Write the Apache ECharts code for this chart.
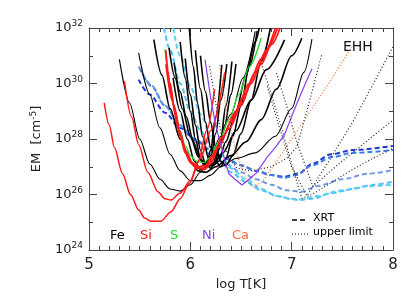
<!DOCTYPE html>
<html>
<head>
<meta charset="utf-8">
<title>EM loci</title>
<script src="https://cdn.jsdelivr.net/npm/echarts@6/dist/echarts.min.js"></script>
<style>
html, body { margin: 0; padding: 0; background: #fff; }
#chart { width: 420px; height: 307px; }
</style>
</head>
<body>
<div id="chart"></div>
<script>
// log T, log EM pairs
var xTicks = [5, 6, 7, 8];
var yTicks = [24, 26, 28, 30, 32];

var feCurves = [
  [[5.30,30.87],[5.40,29.3],[5.50,28.0],[5.60,27.1],[5.70,26.55],[5.80,26.2],[5.90,26.12],[6.00,26.35],[6.10,26.8],[6.20,27.4],[6.30,28.1],[6.40,28.9],[6.52,30.2],[6.64,31.88]],
  [[5.49,31.1],[5.60,29.6],[5.70,28.4],[5.80,27.45],[5.90,26.85],[6.00,26.5],[6.10,26.5],[6.20,26.7],[6.30,27.0],[6.45,27.3],[6.64,27.5],[6.84,28.1],[7.00,29.1],[7.12,30.4],[7.20,31.6]],
  [[5.64,31.58],[5.72,30.3],[5.80,29.1],[5.90,28.0],[6.00,27.2],[6.08,26.85],[6.15,26.8],[6.25,27.0],[6.40,27.4],[6.55,27.9],[6.70,28.7],[6.85,29.8],[7.00,31.0],[7.10,31.63]],
  [[5.79,31.28],[5.85,30.2],[5.92,29.1],[6.00,28.1],[6.08,27.35],[6.15,27.0],[6.22,27.05],[6.32,27.5],[6.45,28.3],[6.60,29.4],[6.75,30.5],[6.93,31.57]],
  [[5.84,30.74],[5.90,29.7],[5.96,28.8],[6.03,27.9],[6.10,27.25],[6.16,27.0],[6.22,27.1],[6.28,27.6],[6.34,28.5],[6.40,29.6],[6.45,30.7]],
  [[5.99,32.0],[6.03,30.6],[6.07,29.3],[6.12,28.1],[6.18,27.3],[6.23,27.05],[6.28,27.2],[6.35,27.9],[6.45,29.0],[6.55,30.3],[6.64,31.5],[6.68,32.0]],
  [[5.95,30.9],[6.00,29.6],[6.05,28.5],[6.10,27.6],[6.15,27.1],[6.20,26.95],[6.25,27.2],[6.30,28.0],[6.35,29.2],[6.41,30.79]],
  [[6.05,31.2],[6.10,29.8],[6.15,28.6],[6.20,27.7],[6.25,27.2],[6.30,27.0],[6.35,27.3],[6.42,28.1],[6.50,29.2],[6.58,30.6],[6.66,31.9]],
  [[6.10,31.0],[6.15,29.7],[6.20,28.6],[6.25,27.7],[6.30,27.2],[6.35,27.05],[6.42,27.4],[6.50,28.2],[6.60,29.4],[6.70,30.8],[6.79,32.0]],
  [[5.90,31.5],[5.95,30.2],[6.00,29.0],[6.05,28.0],[6.10,27.3],[6.15,27.05],[6.20,27.3],[6.25,28.2],[6.30,29.4],[6.36,30.7]],
  [[5.83,30.2],[5.90,29.0],[5.97,28.0],[6.04,27.2],[6.10,26.9],[6.16,27.0],[6.20,27.6],[6.25,28.8],[6.31,30.67]]
];

var siCurves = [
  [[5.15,29.3],[5.20,28.5],[5.25,27.7],[5.33,26.76],[5.41,26.0],[5.49,25.44],[5.55,25.15],[5.61,25.04],[5.71,25.04],[5.81,25.38],[5.90,25.85],[5.99,26.4],[6.10,27.3],[6.20,28.3],[6.34,30.4]],
  [[5.35,30.08],[5.42,28.8],[5.49,27.8],[5.58,26.8],[5.68,26.1],[5.75,25.85],[5.81,25.8],[5.90,26.05],[6.00,26.5],[6.08,27.2],[6.16,28.3],[6.24,29.8]],
  [[5.757,31.2],[5.80,30.0],[5.85,28.9],[5.90,28.1],[5.95,27.5],[6.00,27.15],[6.06,26.95],[6.12,26.95],[6.18,27.1],[6.25,27.6],[6.39,28.4],[6.50,29.2],[6.60,30.0],[6.70,30.7],[6.80,31.4],[6.885,32.0]],
  [[5.76,30.7],[5.82,29.4],[5.88,28.4],[5.95,27.6],[6.02,27.15],[6.08,26.95],[6.14,26.9],[6.20,27.1],[6.28,27.7],[6.40,28.6],[6.52,29.5],[6.64,30.4],[6.75,31.2],[6.86,32.0]],
  [[5.78,30.4],[5.84,29.2],[5.90,28.2],[5.96,27.5],[6.02,27.1],[6.08,27.0],[6.15,27.05],[6.22,27.4],[6.32,28.1],[6.45,29.0],[6.58,30.0],[6.70,30.9],[6.84,32.0]]
];

var sCurve = [[5.75,31.23],[5.80,30.0],[5.85,29.0],[5.90,28.3],[5.95,27.75],[6.00,27.4],[6.06,27.2],[6.13,27.15],[6.20,27.35],[6.28,27.9],[6.38,28.7],[6.48,29.6],[6.58,30.6],[6.70,31.65]];

var niCurve = [[6.145,30.86],[6.20,29.5],[6.25,28.5],[6.30,27.8],[6.35,27.1],[6.38,26.75],[6.44,26.55],[6.51,26.34],[6.58,26.55],[6.65,26.77],[6.75,27.3],[6.85,27.75],[6.93,28.16],[7.02,29.0],[7.10,29.7],[7.20,30.53]];

var caCurve = [[6.29,30.67],[6.33,29.6],[6.38,28.6],[6.44,27.7],[6.50,27.0],[6.56,26.5],[6.62,26.25],[6.72,26.5],[6.85,27.2],[7.00,28.0],[7.20,29.1],[7.40,30.2],[7.59,31.3]];

var xrtCurves = [
  [[5.49,30.14],[5.60,29.6],[5.75,28.95],[5.90,28.4],[6.05,27.95],[6.20,27.6],[6.35,27.3],[6.50,27.05],[6.65,26.85],[6.80,26.7],[6.93,26.64],[7.07,26.76],[7.20,27.1],[7.39,27.45],[7.60,27.6],[8.0,27.75]],
  [[5.50,30.55],[5.62,29.9],[5.75,29.2],[5.90,28.5],[6.05,28.0],[6.20,27.6],[6.35,27.3],[6.50,27.05],[6.65,26.85],[6.80,26.7],[6.93,26.6],[7.05,26.7],[7.20,27.05],[7.40,27.35],[7.60,27.5],[8.0,27.6]],
  [[5.49,30.62],[5.60,30.0],[5.75,29.2],[5.90,28.5],[6.05,27.9],[6.20,27.45],[6.35,27.1],[6.50,26.8],[6.65,26.55],[6.80,26.35],[6.95,26.15],[7.10,26.1],[7.25,26.3],[7.50,26.55],[7.75,26.75],[8.0,26.88]],
  [[5.74,32.0],[5.80,31.2],[5.90,30.0],[6.00,29.0],[6.10,28.3],[6.20,27.7],[6.30,27.2],[6.40,26.8],[6.55,26.45],[6.70,26.15],[6.85,25.95],[7.00,25.83],[7.07,25.8],[7.20,25.85],[7.40,26.05],[7.60,26.2],[7.80,26.35],[8.0,26.46]],
  [[5.83,32.0],[5.90,31.0],[6.00,29.9],[6.10,28.9],[6.20,28.1],[6.30,27.45],[6.40,26.95],[6.55,26.55],[6.70,26.2],[6.85,25.95],[7.00,25.85],[7.10,25.82],[7.25,25.95],[7.50,26.15],[7.75,26.3],[8.0,26.35]]
];
var xrtColors = ['#1f35d8', '#3c7ee6', '#6f9ae8', '#4cc0f2', '#5ccff5'];

var limitCurves = [
  [[6.19,30.62],[6.25,29.3],[6.31,28.04],[6.38,27.3],[6.46,26.95],[6.60,26.85],[6.80,27.0],[6.95,27.3],[7.05,27.7],[7.15,29.0],[7.30,31.09]],
  [[6.70,30.73],[6.80,29.6],[6.90,28.4],[7.00,27.1],[7.10,25.86],[7.20,26.0],[7.40,26.45],[7.60,26.9],[7.80,27.3],[8.0,27.66]],
  [[6.85,30.37],[6.95,29.2],[7.05,27.9],[7.21,26.28],[7.40,26.9],[7.60,27.5],[7.80,28.1],[8.0,28.68]],
  [[6.76,29.9],[6.88,28.4],[7.00,27.0],[7.15,25.95],[7.40,27.4],[7.60,28.6],[7.80,29.95],[8.0,31.33]]
];

var elemLabels = ['Fe', 'Si', 'S', 'Ni', 'Ca'];
var elemColors = ['#000000', '#ff1a1a', '#22dd22', '#8a3ff0', '#ff6a33'];

var myChart = echarts.init(document.getElementById('chart'));

var series = [];
function addLine(data, color, width, type, smooth) {
  series.push({
    type: 'line',
    data: data,
    xAxisIndex: 0,
    yAxisIndex: 0,
    showSymbol: false,
    silent: true,
    smooth: smooth,
    smoothMonotone: 'x',
    lineStyle: { color: color, width: width, type: type }
  });
}

xrtCurves.forEach(function (c, i) { addLine(c, xrtColors[i], 2, [5, 3], 0.3); });
feCurves.forEach(function (c, i) { addLine(c, '#000', i < 2 ? 1.1 : 1.6, 'solid', 0.3); });
addLine(sCurve, elemColors[2], 1.3, 'solid', 0.3);
siCurves.forEach(function (c, i) { addLine(c, elemColors[1], i < 2 ? 1.5 : 1.8, 'solid', 0.3); });
addLine(niCurve, elemColors[3], 1.2, 'solid', false);
addLine(caCurve, elemColors[4], 1.2, [1, 2], false);
limitCurves.forEach(function (c) { addLine(c, '#222', 1.2, [1, 2.2], false); });

var elemX = [110, 140, 170, 202, 232];
var graphic = elemLabels.map(function (t, i) {
  return { type: 'text', left: elemX[i], top: 229, style: { text: t, fill: elemColors[i], fontSize: 13, fontFamily: 'DejaVu Sans' } };
});
graphic.push(
  { type: 'text', left: 343, top: 40, style: { text: 'EHH', fill: '#111', fontSize: 14, fontFamily: 'DejaVu Sans' } },
  { type: 'line', shape: { x1: 292, y1: 220, x2: 307, y2: 220 }, style: { stroke: '#000', lineWidth: 1.6, lineDash: [5, 3] } },
  { type: 'text', left: 313, top: 213, style: { text: 'XRT', fill: '#000', fontSize: 11, fontFamily: 'DejaVu Sans' } },
  { type: 'line', shape: { x1: 292, y1: 234, x2: 309, y2: 234 }, style: { stroke: '#000', lineWidth: 1.1, lineDash: [1, 2] } },
  { type: 'text', left: 313, top: 227, style: { text: 'upper limit', fill: '#000', fontSize: 11, fontFamily: 'DejaVu Sans' } }
);

var axisLineStyle = { color: '#444', width: 1 };

option = {
  animation: false,
  backgroundColor: '#fff',
  textStyle: { fontFamily: 'DejaVu Sans' },
  grid: { left: 89, right: 27, top: 28, bottom: 57 },
  xAxis: [
    {
      type: 'value', min: xTicks[0], max: xTicks[xTicks.length - 1], interval: 1, position: 'bottom',
      name: 'log T[K]', nameLocation: 'middle', nameGap: 27,
      nameTextStyle: { fontSize: 13, color: '#222' },
      axisLine: { show: true, lineStyle: axisLineStyle },
      axisTick: { inside: true, length: 8, lineStyle: axisLineStyle },
      minorTick: { show: true, splitNumber: 10, length: 4, lineStyle: axisLineStyle },
      axisLabel: { fontSize: 15, color: '#222', margin: 8 },
      splitLine: { show: false }
    },
    {
      type: 'value', min: xTicks[0], max: xTicks[xTicks.length - 1], interval: 1, position: 'top',
      axisLine: { show: true, lineStyle: axisLineStyle },
      axisTick: { inside: true, length: 8, lineStyle: axisLineStyle },
      minorTick: { show: true, splitNumber: 10, length: 4, lineStyle: axisLineStyle },
      axisLabel: { show: false },
      splitLine: { show: false }
    }
  ],
  yAxis: [
    {
      type: 'value', min: yTicks[0], max: yTicks[yTicks.length - 1], interval: 2, position: 'left',
      name: '{b|EM  [cm}{s|-5}{b|]}', nameLocation: 'middle', nameGap: 44,
      nameTextStyle: {
        color: '#222',
        rich: {
          b: { fontSize: 13, color: '#222' },
          s: { fontSize: 9, color: '#222', padding: [0, 0, 7, 0] }
        }
      },
      axisLine: { show: true, lineStyle: axisLineStyle },
      axisTick: { inside: true, length: 8, lineStyle: axisLineStyle },
      minorTick: { show: true, splitNumber: 2, length: 4, lineStyle: axisLineStyle },
      axisLabel: {
        margin: 6,
        formatter: function (v) { return '{b|10}{s|' + v + '}'; },
        rich: {
          b: { fontSize: 13, color: '#222' },
          s: { fontSize: 9, color: '#222', padding: [0, 0, 8, 0] }
        }
      },
      splitLine: { show: false }
    },
    {
      type: 'value', min: yTicks[0], max: yTicks[yTicks.length - 1], interval: 2, position: 'right',
      axisLine: { show: true, lineStyle: axisLineStyle },
      axisTick: { inside: true, length: 8, lineStyle: axisLineStyle },
      minorTick: { show: true, splitNumber: 2, length: 4, lineStyle: axisLineStyle },
      axisLabel: { show: false },
      splitLine: { show: false }
    }
  ],
  graphic: graphic,
  series: series
};

myChart.setOption(option);
</script>
</body>
</html>
